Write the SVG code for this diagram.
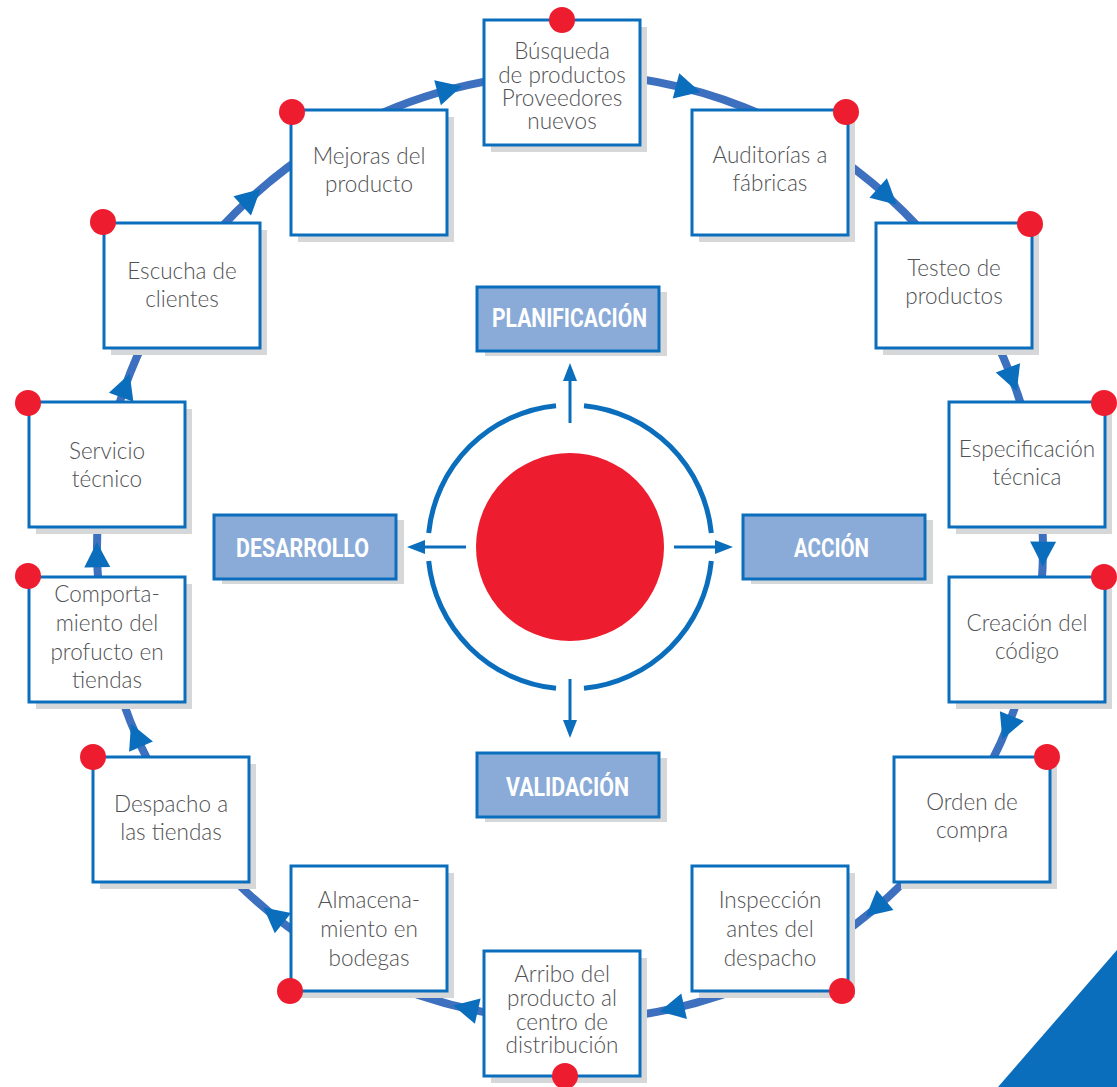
<svg xmlns="http://www.w3.org/2000/svg" width="1117" height="1087" viewBox="0 0 1117 1087">
<style>
.track{fill:none;stroke:#3d70be;stroke-width:8}
.ah{fill:#0a6ebd}
.ring{fill:none;stroke:#0a6ebd;stroke-width:5}
.cl{stroke:#0a6ebd;stroke-width:3;fill:none}
.sh{fill:#d6d7d9}
.box{fill:#ffffff;stroke:#0a6ebd;stroke-width:3}
.lbox{fill:#8aabd8;stroke:#0a6ebd;stroke-width:3}
.dot{fill:#ed1c2e}
.t{font-family:Lato,Roboto,"Open Sans","Liberation Sans",sans-serif;font-weight:300;font-size:22.5px;fill:#505153;text-anchor:middle}
.lt{font-family:Roboto,"Open Sans","Liberation Sans",sans-serif;font-weight:700;font-size:25px;fill:#ffffff;text-anchor:middle}
</style>
<rect x="0" y="0" width="1117" height="1087" fill="#ffffff"/>
<polygon points="1117,950 1117,1087 998,1087" fill="#0a6ebd"/>

<g id="connectors">
  <circle class="track" cx="570" cy="547" r="473"/>
  <g class="ah">
    <polygon points="1043,560 1030,535 1056,535" transform="rotate(-104.8 570 547)"/>
    <polygon points="1043,560 1030,535 1056,535" transform="rotate(-75.6 570 547)"/>
    <polygon points="1043,560 1030,535 1056,535" transform="rotate(-47.9 570 547)"/>
    <polygon points="1043,560 1030,535 1056,535" transform="rotate(-20.8 570 547)"/>
    <polygon points="1043,560 1030,535 1056,535" transform="rotate(0.8 570 547)"/>
    <polygon points="1043,560 1030,535 1056,535" transform="rotate(22.4 570 547)"/>
    <polygon points="1043,560 1030,535 1056,535" transform="rotate(49.7 570 547)"/>
    <polygon points="1043,560 1030,535 1056,535" transform="rotate(77.5 570 547)"/>
    <polygon points="1043,560 1030,535 1056,535" transform="rotate(102.7 570 547)"/>
    <polygon points="1043,560 1030,535 1056,535" transform="rotate(128.8 570 547)"/>
    <polygon points="1043,560 1030,535 1056,535" transform="rotate(156.5 570 547)"/>
    <polygon points="1043,560 1030,535 1056,535" transform="rotate(179 570 547)"/>
    <polygon points="1043,560 1030,535 1056,535" transform="rotate(199.9 570 547)"/>
    <polygon points="1043,560 1030,535 1056,535" transform="rotate(227.6 570 547)"/>
  </g>
  <line class="cl" x1="570" y1="423" x2="570" y2="378"/>
  <polygon class="ah" points="570,363 563,381 577,381"/>
  <line class="cl" x1="466" y1="547" x2="422" y2="547"/>
  <polygon class="ah" points="407,547 425,540 425,554"/>
  <line class="cl" x1="674" y1="547" x2="718" y2="547"/>
  <polygon class="ah" points="733,547 715,540 715,554"/>
  <line class="cl" x1="570" y1="679" x2="570" y2="723"/>
  <polygon class="ah" points="570,738 563,720 577,720"/>
</g>

<g id="center">
  <path class="ring" d="M711.31,561 A142,142 0 0 1 584,688.31"/>
  <path class="ring" d="M556,688.31 A142,142 0 0 1 428.69,561"/>
  <path class="ring" d="M428.69,533 A142,142 0 0 1 556,405.69"/>
  <path class="ring" d="M584,405.69 A142,142 0 0 1 711.31,533"/>
  <circle class="dot" cx="570" cy="547" r="94"/>
</g>

<g id="lbl-planificacion">
  <rect class="sh" x="485" y="292" width="182" height="64"/>
  <rect class="lbox" x="477" y="287" width="182" height="64"/>
  <text class="lt" x="569.5" y="327" textLength="155" lengthAdjust="spacingAndGlyphs">PLANIFICACIÓN</text>
</g>
<g id="lbl-desarrollo">
  <rect class="sh" x="222" y="520" width="182" height="64"/>
  <rect class="lbox" x="214" y="515" width="182" height="64"/>
  <text class="lt" x="302.5" y="557" textLength="133" lengthAdjust="spacingAndGlyphs">DESARROLLO</text>
</g>
<g id="lbl-accion">
  <rect class="sh" x="751" y="520" width="182" height="64"/>
  <rect class="lbox" x="743" y="515" width="182" height="64"/>
  <text class="lt" x="831.5" y="557" textLength="75" lengthAdjust="spacingAndGlyphs">ACCIÓN</text>
</g>
<g id="lbl-validacion">
  <rect class="sh" x="485" y="758" width="182" height="64"/>
  <rect class="lbox" x="477" y="753" width="182" height="64"/>
  <text class="lt" x="567.5" y="796" textLength="123" lengthAdjust="spacingAndGlyphs">VALIDACIÓN</text>
</g>

<g id="n-busqueda">
  <rect class="sh" x="491" y="27" width="156" height="125"/>
  <rect class="box" x="484" y="20" width="156" height="125"/>
  <text class="t" x="562" y="59">Búsqueda</text>
  <text class="t" x="562" y="83">de productos</text>
  <text class="t" x="562" y="106">Proveedores</text>
  <text class="t" x="562" y="129">nuevos</text>
  <circle class="dot" cx="562" cy="20" r="13"/>
</g>
<g id="n-auditorias">
  <rect class="sh" x="699" y="117" width="156" height="125"/>
  <rect class="box" x="692" y="110" width="156" height="125"/>
  <text class="t" x="770" y="163">Auditorías a</text>
  <text class="t" x="770" y="191">fábricas</text>
  <circle class="dot" cx="846" cy="112" r="13"/>
</g>
<g id="n-testeo">
  <rect class="sh" x="883" y="230" width="156" height="125"/>
  <rect class="box" x="876" y="223" width="156" height="125"/>
  <text class="t" x="954" y="276">Testeo de</text>
  <text class="t" x="954" y="304">productos</text>
  <circle class="dot" cx="1030" cy="224" r="13"/>
</g>
<g id="n-especificacion">
  <rect class="sh" x="956" y="409" width="156" height="125"/>
  <rect class="box" x="949" y="402" width="156" height="125"/>
  <text class="t" x="1027" y="457">Especificación</text>
  <text class="t" x="1027" y="485">técnica</text>
  <circle class="dot" cx="1104" cy="403" r="13"/>
</g>
<g id="n-creacion">
  <rect class="sh" x="956" y="584" width="156" height="125"/>
  <rect class="box" x="949" y="577" width="156" height="125"/>
  <text class="t" x="1027" y="631">Creación del</text>
  <text class="t" x="1027" y="659">código</text>
  <circle class="dot" cx="1104" cy="577" r="13"/>
</g>
<g id="n-orden">
  <rect class="sh" x="901" y="764" width="156" height="125"/>
  <rect class="box" x="894" y="757" width="156" height="125"/>
  <text class="t" x="972" y="810">Orden de</text>
  <text class="t" x="972" y="838">compra</text>
  <circle class="dot" cx="1047" cy="757" r="13"/>
</g>
<g id="n-inspeccion">
  <rect class="sh" x="699" y="873" width="156" height="125"/>
  <rect class="box" x="692" y="866" width="156" height="125"/>
  <text class="t" x="770" y="908">Inspección</text>
  <text class="t" x="770" y="937">antes del</text>
  <text class="t" x="770" y="966">despacho</text>
  <circle class="dot" cx="842" cy="991" r="13"/>
</g>
<g id="n-arribo">
  <rect class="sh" x="491" y="958" width="156" height="125"/>
  <rect class="box" x="484" y="951" width="156" height="125"/>
  <text class="t" x="562" y="982">Arribo del</text>
  <text class="t" x="562" y="1006">producto al</text>
  <text class="t" x="562" y="1030">centro de</text>
  <text class="t" x="562" y="1053">distribución</text>
  <circle class="dot" cx="565" cy="1076" r="13"/>
</g>
<g id="n-almacenamiento">
  <rect class="sh" x="298" y="873" width="156" height="125"/>
  <rect class="box" x="291" y="866" width="156" height="125"/>
  <text class="t" x="369" y="908">Almacena-</text>
  <text class="t" x="369" y="937">miento en</text>
  <text class="t" x="369" y="966">bodegas</text>
  <circle class="dot" cx="290" cy="991" r="13"/>
</g>
<g id="n-despacho">
  <rect class="sh" x="100" y="764" width="156" height="125"/>
  <rect class="box" x="93" y="757" width="156" height="125"/>
  <text class="t" x="171" y="812">Despacho a</text>
  <text class="t" x="171" y="840">las tiendas</text>
  <circle class="dot" cx="93" cy="757" r="13"/>
</g>
<g id="n-comportamiento">
  <rect class="sh" x="36" y="584" width="156" height="125"/>
  <rect class="box" x="29" y="577" width="156" height="125"/>
  <text class="t" x="107" y="602">Comporta-</text>
  <text class="t" x="107" y="631">miento del</text>
  <text class="t" x="107" y="660">profucto en</text>
  <text class="t" x="107" y="688">tiendas</text>
  <circle class="dot" cx="28" cy="576" r="13"/>
</g>
<g id="n-servicio">
  <rect class="sh" x="36" y="409" width="156" height="125"/>
  <rect class="box" x="29" y="402" width="156" height="125"/>
  <text class="t" x="107" y="459">Servicio</text>
  <text class="t" x="107" y="487">técnico</text>
  <circle class="dot" cx="28" cy="403" r="13"/>
</g>
<g id="n-escucha">
  <rect class="sh" x="111" y="230" width="156" height="125"/>
  <rect class="box" x="104" y="223" width="156" height="125"/>
  <text class="t" x="182" y="279">Escucha de</text>
  <text class="t" x="182" y="307">clientes</text>
  <circle class="dot" cx="103" cy="222" r="13"/>
</g>
<g id="n-mejoras">
  <rect class="sh" x="298" y="117" width="156" height="125"/>
  <rect class="box" x="291" y="110" width="156" height="125"/>
  <text class="t" x="369" y="164">Mejoras del</text>
  <text class="t" x="369" y="192">producto</text>
  <circle class="dot" cx="292" cy="112" r="13"/>
</g>
</svg>
